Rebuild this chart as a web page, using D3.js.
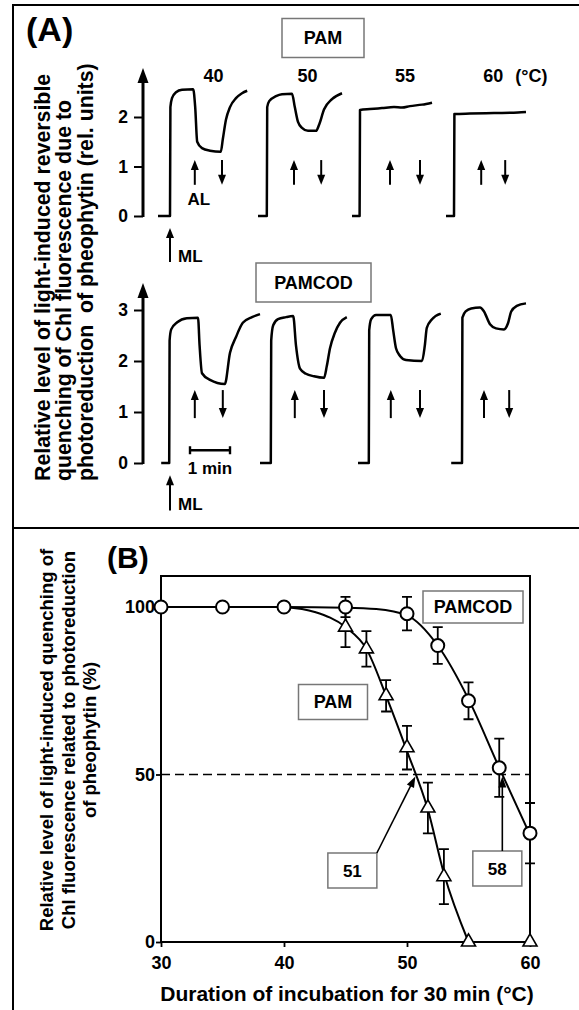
<!DOCTYPE html>
<html>
<head>
<meta charset="utf-8">
<script src="https://cdn.jsdelivr.net/npm/d3@7"></script>
<style>
  body { margin: 0; background: #fff; }
  svg { display: block; }
  text { font-family: "Liberation Sans", Arial, Helvetica, sans-serif; font-weight: bold; fill: #000; }
</style>
</head>
<body>
<script>
// ---------- panel A: recorder traces, [time (min), signal (rel. units)] ----------
const tempsA = ["40", "50", "55", "60"];

const pam40 = [[0,0],[0.3,0],[0.31,2.2],[0.35,2.38],[0.45,2.5],[0.6,2.55],[0.88,2.56],[0.93,2.2],[0.98,1.5],[1.1,1.37],[1.3,1.32],[1.57,1.3],[1.62,1.55],[1.7,1.95],[1.8,2.2],[1.95,2.38],[2.1,2.48],[2.23,2.53]];
const pam50 = [[2.5,0],[2.72,0],[2.73,2.2],[2.78,2.32],[2.95,2.42],[3.1,2.46],[3.35,2.47],[3.42,2.2],[3.5,1.9],[3.6,1.78],[3.75,1.72],[3.95,1.72],[4.03,1.85],[4.15,2.15],[4.35,2.36],[4.6,2.48]];
const pam55 = [[4.85,0],[5.04,0],[5.05,2.14],[5.3,2.16],[5.6,2.18],[5.9,2.2],[6.1,2.19],[6.3,2.22],[6.6,2.25],[6.85,2.29]];
const pam60 = [[7.2,0],[7.4,0],[7.41,2.06],[7.8,2.07],[8.4,2.08],[9.0,2.09],[9.2,2.1]];

const cod40 = [[0.08,0],[0.28,0],[0.29,2.4],[0.33,2.62],[0.48,2.76],[0.72,2.84],[1.0,2.85],[1.04,2.3],[1.1,1.76],[1.3,1.63],[1.67,1.55],[1.8,2.16],[1.95,2.47],[2.12,2.75],[2.35,2.86],[2.55,2.92]];
const cod50 = [[2.55,0],[2.82,0],[2.83,2.4],[2.88,2.7],[3.0,2.82],[3.2,2.86],[3.38,2.88],[3.45,2.3],[3.55,1.85],[3.7,1.75],[3.9,1.7],[4.15,1.67],[4.22,1.9],[4.3,2.25],[4.42,2.55],[4.55,2.75],[4.72,2.86]];
const cod55 = [[5.0,0],[5.27,0],[5.28,2.6],[5.33,2.82],[5.45,2.9],[5.82,2.9],[5.88,2.6],[5.95,2.25],[6.05,2.1],[6.2,2.02],[6.6,2.0],[6.67,2.3],[6.72,2.65],[6.85,2.82],[7.07,2.93]];
const cod60 = [[7.33,0],[7.6,0],[7.61,2.85],[7.7,2.98],[7.83,3.03],[8.05,3.05],[8.15,2.97],[8.3,2.72],[8.45,2.64],[8.65,2.62],[8.75,2.74],[8.83,2.97],[8.97,3.08],[9.2,3.13]];

// actinic light on / off (min)
const pamAlOn  = [0.92, 3.4, 5.8, 8.08];
const pamAlOff = [1.6, 4.08, 6.55, 8.68];
const codAlOn  = [0.92, 3.42, 5.82, 8.15];
const codAlOff = [1.62, 4.15, 6.55, 8.78];
const mlTime = 0.3;
const pamTicks = [0, 1, 2];
const codTicks = [0, 1, 2, 3];

// ---------- panel B: % of control vs incubation temperature ----------
const codTemp = [30, 35, 40, 45, 50, 52.5, 55, 57.5, 60];
const codVal  = [100, 100, 100, 100, 98, 88.5, 72, 52, 32.5];
const codErr  = [0, 0, 0, 3, 5, 5.5, 5.5, 8.7, 9];
const pamTemp = [45, 46.7, 48.3, 50, 51.7, 53, 55, 60];
const pamVal  = [94, 87.5, 73.5, 58, 40, 19.5, 0, 0];
const pamErr  = [6, 5.3, 4.7, 6.5, 7.6, 8.2, 0, 0];
const codFitT = [30, 35, 40, 45, 47.5, 50, 52.5, 55, 57.5, 60];
const codFitV = [100, 100, 100, 99.8, 99.4, 97.5, 88.5, 72.5, 52, 32];
const pamFitT = [40, 42.5, 45, 46.7, 48.3, 50, 51.7, 53, 55];
const pamFitV = [100, 98.5, 94, 87.5, 73.5, 57, 39.5, 20.5, 0];
const halfLabels = ["51", "58"];
const xTicksB = [30, 40, 50, 60];
const yTicksB = [0, 50, 100];

const width = 579, height = 1010;
const svg = d3.select("body").append("svg").attr("width", width).attr("height", height);

// outer frame and divider
svg.append("path").attr("d", "M13,1010V5H579M13,528H579")
  .attr("fill", "none").attr("stroke", "#000").attr("stroke-width", 2);

function head(g, x, y, angle, len, w) {
  const bx = x - len * Math.cos(angle), by = y - len * Math.sin(angle);
  const px = -Math.sin(angle) * w / 2, py = Math.cos(angle) * w / 2;
  g.append("path").attr("d", `M${x},${y}L${bx + px},${by + py}L${bx - px},${by - py}Z`).attr("fill", "#000");
}
function arrow(g, x1, y1, x2, y2, sw = 2, len = 10, w = 8) {
  const a = Math.atan2(y2 - y1, x2 - x1);
  g.append("line").attr("x1", x1).attr("y1", y1)
    .attr("x2", x2 - Math.cos(a) * len * 0.6).attr("y2", y2 - Math.sin(a) * len * 0.6)
    .attr("stroke", "#000").attr("stroke-width", sw);
  head(g, x2, y2, a, len, w);
}
function box(g, cx, cy, w, h, label, size = 18) {
  g.append("rect").attr("x", cx - w / 2).attr("y", cy - h / 2).attr("width", w).attr("height", h)
    .attr("fill", "#fff").attr("stroke", "#777").attr("stroke-width", 1.5);
  g.append("text").attr("x", cx).attr("y", cy).attr("dy", "0.36em").attr("text-anchor", "middle")
    .attr("font-size", size).text(label);
}

/* ------------- PANEL A ------------- */
const tA = d3.scaleLinear().domain([0, 9.2]).range([158, 526]);
const yPam = d3.scaleLinear().domain([0, 2]).range([216, 117]);
const yCod = d3.scaleLinear().domain([0, 3]).range([463, 310]);
const axisXA = 143;

function recorder(y, ticks, top, traces, on, off, lo, hi) {
  const g = svg.append("g");
  const ax = g.append("g").attr("transform", `translate(${axisXA},0)`)
    .call(d3.axisLeft(y).tickValues(ticks).tickFormat(d3.format("d")).tickSize(9).tickPadding(6));
  ax.select(".domain").remove();
  ax.attr("font-family", null).attr("font-size", null);
  ax.selectAll("line").attr("stroke-width", 2);
  ax.selectAll("text").attr("font-size", 17.5);
  arrow(g, axisXA, y(0) + 1, axisXA, y(top), 3, 15, 11);

  const line = d3.line().x(d => tA(d[0])).y(d => y(d[1])).curve(d3.curveMonotoneX);
  g.selectAll("path.trace").data(traces).join("path").attr("class", "trace")
    .attr("d", line).attr("fill", "none").attr("stroke", "#000")
    .attr("stroke-width", 2.5).attr("stroke-linejoin", "round");

  on.forEach(t => arrow(g, tA(t), y(lo), tA(t), y(hi)));
  off.forEach(t => arrow(g, tA(t), y(hi), tA(t), y(lo)));
  arrow(g, tA(mlTime), y(-0.93), tA(mlTime), y(-0.24));
  g.append("text").attr("x", tA(mlTime) + 8).attr("y", y(-0.93)).attr("font-size", 17).text("ML");
  return g;
}

const gPam = recorder(yPam, pamTicks, 2.99, [pam40, pam50, pam55, pam60], pamAlOn, pamAlOff, 0.63, 1.13);
const gCod = recorder(yCod, codTicks, 3.53, [cod40, cod50, cod55, cod60], codAlOn, codAlOff, 0.88, 1.43);

// temperature labels over the PAM traces
tempsA.forEach((t, i) => {
  const xm = tA((pamAlOn[i] + pamAlOff[i]) / 2) + (i === 0 ? 5 : 0);
  gPam.append("text").attr("x", xm).attr("y", 82).attr("text-anchor", "middle").attr("font-size", 18).text(t);
  if (i === tempsA.length - 1)
    gPam.append("text").attr("x", xm + 22).attr("y", 82).attr("font-size", 18).text("(°C)");
});
gPam.append("text").attr("x", tA(pamAlOn[0]) + 4).attr("y", yPam(0.22))
  .attr("text-anchor", "middle").attr("font-size", 17).text("AL");

// 1 min scale bar
const sb = [tA(0.8), tA(1.8)], sy = yCod(0.25);
gCod.append("path").attr("d", `M${sb[0]},${sy - 4}V${sy + 4}M${sb[0]},${sy}H${sb[1]}M${sb[1]},${sy - 4}V${sy + 4}`)
  .attr("fill", "none").attr("stroke", "#000").attr("stroke-width", 2.4);
gCod.append("text").attr("x", (sb[0] + sb[1]) / 2).attr("y", 474).attr("text-anchor", "middle")
  .attr("font-size", 17).text("1 min");

svg.append("text").attr("x", 26).attr("y", 41).attr("font-size", 34).text("(A)");
box(svg, 323, 38, 82, 39, "PAM");
box(svg, 313.5, 282.5, 115, 39, "PAMCOD");

const labA = ["Relative level of light-induced reversible",
              "quenching of Chl fluorescence due to",
              "photoreduction\u00a0 of pheophytin (rel. units)"];
labA.forEach((s, i) => {
  svg.append("text").attr("transform", `translate(${49.5 + i * 21.5},481) rotate(-90)`)
    .attr("font-size", 21.3).text(s);
});

/* ------------- PANEL B ------------- */
const xB = d3.scaleLinear().domain([30, 60]).range([161, 530]);
const yB = d3.scaleLinear().domain([0, 100]).range([942, 607]);
const frameTop = 576;
const gB = svg.append("g");

gB.append("rect").attr("x", xB(30)).attr("y", frameTop)
  .attr("width", xB(60) - xB(30)).attr("height", yB(0) - frameTop)
  .attr("fill", "none").attr("stroke", "#000").attr("stroke-width", 2);

const axY = gB.append("g").attr("transform", `translate(${xB(30)},0)`)
  .call(d3.axisLeft(yB).tickValues(yTicksB).tickSize(5).tickPadding(1));
const axX = gB.append("g").attr("transform", `translate(0,${yB(0)})`)
  .call(d3.axisBottom(xB).tickValues(xTicksB).tickSize(5).tickPadding(9));
[axY, axX].forEach(a => {
  a.select(".domain").remove();
  a.attr("font-family", null).attr("font-size", null);
  a.selectAll("line").attr("stroke-width", 1.8);
  a.selectAll("text").attr("font-size", 18);
});

gB.append("line").attr("x1", xB(30)).attr("x2", xB(60)).attr("y1", yB(50)).attr("y2", yB(50))
  .attr("stroke", "#000").attr("stroke-width", 1.6).attr("stroke-dasharray", "9,5");

const fit = d3.line().x(d => xB(d[0])).y(d => yB(d[1])).curve(d3.curveMonotoneX);
const codFit = d3.zip(codFitT, codFitV), pamFit = d3.zip(pamFitT, pamFitV);
gB.selectAll("path.fit").data([codFit, pamFit]).join("path").attr("class", "fit")
  .attr("d", fit).attr("fill", "none").attr("stroke", "#000").attr("stroke-width", 2);

function errorBars(T, V, E) {
  T.forEach((t, i) => {
    if (!E[i]) return;
    const x = xB(t), y1 = yB(V[i] - E[i]), y2 = yB(V[i] + E[i]);
    gB.append("path").attr("d", `M${x},${y1}V${y2}M${x - 5},${y1}H${x + 5}M${x - 5},${y2}H${x + 5}`)
      .attr("fill", "none").attr("stroke", "#000").attr("stroke-width", 1.8);
  });
}
errorBars(codTemp, codVal, codErr);
errorBars(pamTemp, pamVal, pamErr);

gB.selectAll("path.tri").data(d3.zip(pamTemp, pamVal)).join("path").attr("class", "tri")
  .attr("transform", d => `translate(${xB(d[0])},${yB(d[1])})`)
  .attr("d", d3.symbol(d3.symbolTriangle, 85))
  .attr("fill", "#fff").attr("stroke", "#000").attr("stroke-width", 1.6);
gB.selectAll("circle.cod").data(d3.zip(codTemp, codVal)).join("circle").attr("class", "cod")
  .attr("cx", d => xB(d[0])).attr("cy", d => yB(d[1])).attr("r", 6.5)
  .attr("fill", "#fff").attr("stroke", "#000").attr("stroke-width", 2);

// temperature of 50 % inactivation
function cross50(T, V) {
  for (let i = 0; i < V.length - 1; i++)
    if (V[i] >= 50 && V[i + 1] < 50) return T[i] + (T[i + 1] - T[i]) * (V[i] - 50) / (V[i] - V[i + 1]);
}
const halfT = [cross50(pamFitT, pamFitV), cross50(codFitT, codFitV)];
const calloutOffset = [[-63, 94], [-5, 92]];
halfT.forEach((t, i) => {
  const tx = xB(t), ty = yB(50) + 2;
  const cx = tx + calloutOffset[i][0], cy = ty + calloutOffset[i][1];
  const w = 49, h = 35;
  box(gB, cx, cy, w, h, halfLabels[i], 17);
  if (i === 0) arrow(gB, cx + w / 2, cy - h / 2, tx, ty, 1.6, 11, 8);
  else arrow(gB, tx, cy - h / 2, tx, ty, 1.6, 11, 8);
});

box(gB, 333, 702, 69, 35, "PAM");
box(gB, 473, 607, 100, 32, "PAMCOD");

svg.append("text").attr("x", 107).attr("y", 568).attr("font-size", 30).text("(B)");
svg.append("text").attr("x", 347).attr("y", 1001).attr("text-anchor", "middle")
  .attr("font-size", 21).text("Duration of incubation for 30 min (°C)");

const labB = ["Relative level of light-induced quenching of",
              "Chl fluorescence related to photoreduction",
              "of pheophytin (%)"];
labB.forEach((s, i) => {
  svg.append("text").attr("transform", `translate(${53 + i * 21.5},740) rotate(-90)`)
    .attr("text-anchor", "middle").attr("font-size", 18.5).text(s);
});
</script>
</body>
</html>
